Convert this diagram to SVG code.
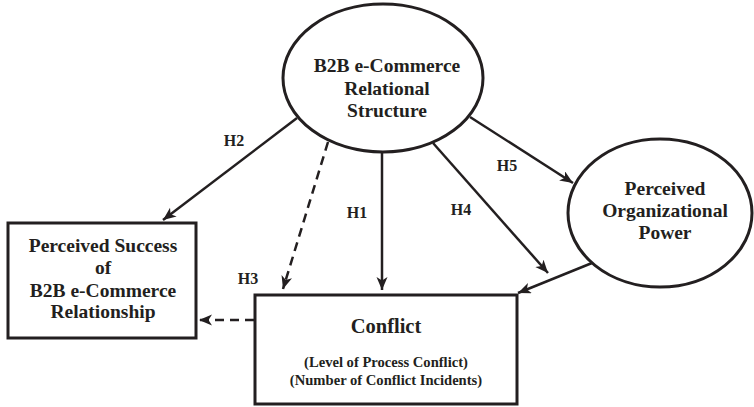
<svg xmlns="http://www.w3.org/2000/svg" width="754" height="407" viewBox="0 0 754 407">
<defs>
<marker id="ah" markerUnits="userSpaceOnUse" markerWidth="16" markerHeight="14" refX="13" refY="5.5" orient="auto">
<path d="M0,0 L13,5.5 L0,11 L3.5,5.5 z" fill="#231f20"/>
</marker>
<style>
.t{font-family:"Liberation Serif","Times New Roman",serif;font-weight:bold;fill:#231f20;text-anchor:middle}
.big{font-size:19.5px}
.sm{font-size:14.6px}
.lab{font-size:16px}
.shape{fill:#fff;stroke:#231f20;stroke-width:3}
.c{stroke:#231f20;stroke-width:2.5;fill:none}
.d{stroke-dasharray:9,6}
</style>
</defs>
<rect width="754" height="407" fill="#fff"/>
<g id="connectors">
<line class="c" x1="297" y1="118" x2="163" y2="220" marker-end="url(#ah)"/>
<line class="c d" x1="328" y1="142" x2="283" y2="289" marker-end="url(#ah)"/>
<line class="c" x1="382" y1="152" x2="382" y2="290" marker-end="url(#ah)"/>
<line class="c" x1="433" y1="143" x2="548" y2="273" marker-end="url(#ah)"/>
<line class="c" x1="470" y1="117" x2="573" y2="183" marker-end="url(#ah)"/>
<line class="c" x1="592" y1="263" x2="518" y2="293" marker-end="url(#ah)"/>
<line class="c d" x1="254" y1="320" x2="199" y2="320" marker-end="url(#ah)"/>
<text class="t lab" x="234" y="146">H2</text>
<text class="t lab" x="248" y="284">H3</text>
<text class="t lab" x="357" y="218">H1</text>
<text class="t lab" x="461" y="215">H4</text>
<text class="t lab" x="507" y="171">H5</text>
</g>
<g id="structure">
<ellipse class="shape" cx="383" cy="78" rx="100" ry="74"/>
<text class="t big" x="387" y="72">B2B e-Commerce</text>
<text class="t big" x="387" y="95">Relational</text>
<text class="t big" x="387" y="117">Structure</text>
</g>
<g id="power">
<ellipse class="shape" cx="660" cy="213" rx="92" ry="74"/>
<text class="t big" x="665" y="195">Perceived</text>
<text class="t big" x="665" y="217">Organizational</text>
<text class="t big" x="665" y="239">Power</text>
</g>
<g id="success">
<rect class="shape" x="8" y="223" width="188" height="115"/>
<text class="t big" x="103" y="252">Perceived Success</text>
<text class="t big" x="103" y="274">of</text>
<text class="t big" x="103" y="297">B2B e-Commerce</text>
<text class="t big" x="103" y="318">Relationship</text>
</g>
<g id="conflict">
<rect class="shape" x="255" y="295" width="262" height="109"/>
<text class="t" style="font-size:20.5px" x="386" y="333">Conflict</text>
<text class="t sm" x="386" y="367">(Level of Process Conflict)</text>
<text class="t sm" x="386" y="385">(Number of Conflict Incidents)</text>
</g>
</svg>
